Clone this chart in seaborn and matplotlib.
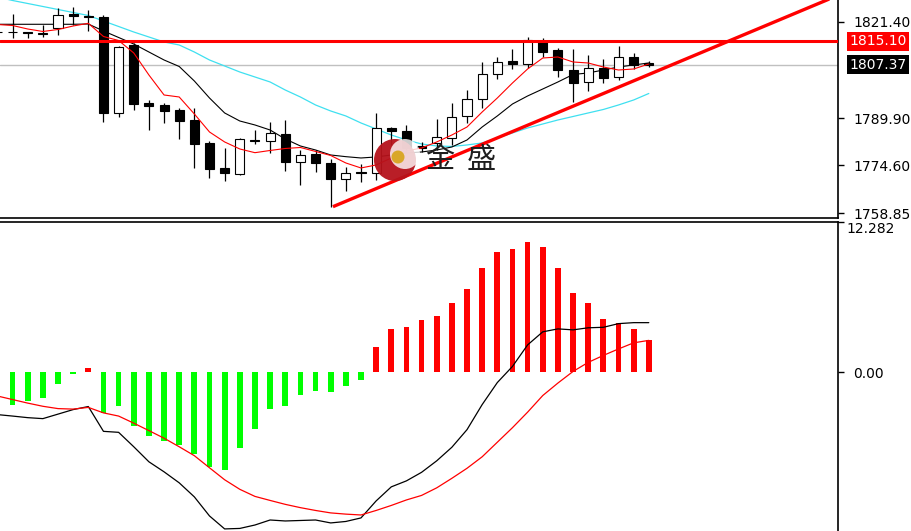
import numpy as np
import pandas as pd
import matplotlib
matplotlib.use('Agg')
import matplotlib.pyplot as plt
import matplotlib.transforms as mtransforms
from matplotlib.patches import Ellipse
import seaborn as sns

# ---- candle data ----
opens = [1818.1, 1818.2, 1817.9, 1817.5, 1819.3, 1823.8, 1823.4, 1823.0, 1791.5, 1813.8,
         1794.8, 1794.2, 1792.6, 1789.3, 1781.7, 1773.5, 1771.7, 1782.9, 1782.5, 1784.7,
         1775.7, 1778.2, 1775.4, 1770.0, 1772.4, 1771.9, 1786.8, 1785.7, 1780.8, 1781.8,
         1783.3, 1790.6, 1796.1, 1804.3, 1808.6, 1807.6, 1815.2, 1812.2, 1805.6, 1801.6,
         1806.2, 1803.4, 1810.0, 1807.9]
highs = [1818.7, 1823.9, 1818.0, 1820.3, 1825.8, 1826.3, 1825.2, 1823.6, 1813.5, 1814.5,
         1795.8, 1794.9, 1793.3, 1793.3, 1782.5, 1780.1, 1783.3, 1786.0, 1788.8, 1789.3,
         1779.5, 1779.5, 1776.6, 1773.9, 1774.9, 1791.7, 1787.1, 1787.7, 1782.2, 1789.7,
         1794.9, 1799.1, 1808.1, 1810.0, 1812.4, 1816.3, 1816.0, 1812.9, 1812.4, 1810.5,
         1809.1, 1813.5, 1811.1, 1808.6]
lows = [1817.7, 1816.0, 1816.0, 1816.5, 1817.1, 1820.3, 1818.5, 1788.8, 1790.2, 1792.6,
        1786.0, 1788.4, 1783.1, 1773.7, 1770.3, 1769.4, 1771.2, 1781.4, 1778.4, 1772.7,
        1768.1, 1772.4, 1761.0, 1766.2, 1769.2, 1769.7, 1781.0, 1778.5, 1779.0, 1779.5,
        1781.2, 1788.2, 1793.1, 1802.6, 1806.0, 1806.2, 1809.8, 1803.3, 1795.3, 1798.9,
        1801.3, 1802.3, 1805.8, 1806.7]
closes = [1818.2, 1818.1, 1817.8, 1817.7, 1823.6, 1823.3, 1822.8, 1791.5, 1813.2, 1794.5,
          1793.9, 1792.2, 1789.0, 1781.4, 1773.3, 1771.9, 1783.0, 1782.5, 1785.0, 1775.7,
          1777.9, 1775.2, 1770.0, 1771.9, 1771.9, 1786.7, 1785.7, 1780.2, 1780.1, 1783.8,
          1790.4, 1796.1, 1804.3, 1808.3, 1807.6, 1815.3, 1811.6, 1805.6, 1801.4, 1806.4,
          1802.9, 1810.0, 1807.3, 1807.37]

# moving averages
ma_red = [1820.49, 1820.16, 1819.02, 1818.21, 1818.86, 1820.00, 1820.88, 1816.57, 1815.27, 1811.19,
          1804.00, 1797.47, 1796.82, 1791.27, 1785.39, 1782.13, 1779.84, 1778.63, 1779.35, 1780.00,
          1780.33, 1779.03, 1777.72, 1775.27, 1773.64, 1774.62, 1776.90, 1779.19, 1780.17, 1782.13,
          1784.41, 1787.02, 1791.92, 1796.49, 1801.39, 1805.96, 1809.55, 1809.88, 1808.25, 1807.92,
          1806.61, 1805.63, 1805.96, 1807.59]
ma_black = [1820.56, 1820.56, 1820.56, 1820.56, 1820.56, 1820.56, 1820.65, 1818.37, 1816.25, 1814.12,
            1811.51, 1808.90, 1806.78, 1802.04, 1796.49, 1791.60, 1788.98, 1787.68, 1786.04, 1783.11,
            1780.82, 1779.51, 1777.88, 1777.33, 1776.90, 1777.23, 1777.88, 1778.54, 1778.86, 1779.51,
            1780.49, 1782.78, 1787.02, 1790.62, 1794.53, 1797.15, 1799.43, 1801.72, 1804.17, 1804.66,
            1805.63, 1806.61, 1807.27, 1807.92]
ma_cyan = [1829.47, 1828.33, 1827.35, 1826.37, 1825.39, 1824.41, 1823.43, 1821.63, 1819.84, 1818.04,
           1816.41, 1814.78, 1813.80, 1811.51, 1808.90, 1806.94, 1804.98, 1803.35, 1801.72, 1799.10,
           1796.82, 1794.21, 1792.25, 1790.62, 1788.33, 1786.37, 1784.41, 1782.78, 1781.47, 1780.82,
           1780.66, 1781.15, 1781.80, 1783.43, 1785.07, 1786.70, 1788.00, 1789.31, 1790.45, 1791.60,
           1792.74, 1794.21, 1795.84, 1797.96]

# MACD panel
macd_hist = [-3.06, -2.65, -2.32, -2.10, -0.93, -0.19, 0.35, -3.33, -2.73, -4.37,
             -5.25, -5.66, -5.93, -6.67, -7.76, -7.98, -6.20, -4.64, -2.98, -2.73,
             -1.89, -1.56, -1.64, -1.15, -0.60, 2.08, 3.50, 3.72, 4.24, 4.57,
             5.64, 6.84, 8.51, 9.85, 10.07, 10.67, 10.21, 8.51, 6.51, 5.64,
             4.38, 4.05, 3.50, 2.63]
macd_main = [-3.47, -3.59, -3.72, -3.80, -3.43, -3.06, -2.81, -4.84, -4.92, -6.10,
             -7.33, -8.15, -9.05, -10.20, -11.76, -12.82, -12.78, -12.50, -12.09, -12.17,
             -12.13, -12.09, -12.33, -12.21, -11.92, -10.53, -9.38, -8.89, -8.19, -7.25,
             -6.14, -4.70, -2.65, -0.85, 0.47, 2.23, 3.30, 3.54, 3.46, 3.63,
             3.67, 3.97, 4.05, 4.05]
macd_signal = [-1.95, -2.24, -2.53, -2.79, -2.98, -3.02, -2.88, -3.33, -3.59, -4.17,
               -4.78, -5.40, -6.10, -6.83, -7.82, -8.80, -9.58, -10.16, -10.49, -10.81,
               -11.08, -11.31, -11.51, -11.61, -11.68, -11.31, -10.90, -10.45, -10.08, -9.46,
               -8.68, -7.86, -6.92, -5.73, -4.54, -3.27, -1.91, -0.89, 0.06, 0.80,
               1.37, 1.90, 2.40, 2.60]

resistance = 1815.10
last_price = 1807.37
price_ticks = [1821.40, 1789.90, 1774.60, 1758.85]
trend_idx = [22.15, 56.5]
trend_price = [1761.0, 1832.1]
macd_top = 12.282

sns.set_style('white')
plt.rcParams['font.family'] = ['DejaVu Sans']

df = pd.DataFrame({'open': opens, 'high': highs, 'low': lows, 'close': closes,
                   'ma_red': ma_red, 'ma_black': ma_black, 'ma_cyan': ma_cyan,
                   'hist': macd_hist, 'macd': macd_main, 'signal': macd_signal})
df['idx'] = np.arange(len(df))

W, H = 912, 531
fig = plt.figure(figsize=(W / 100, H / 100), dpi=100)
ax1 = fig.add_axes([0, (H - 218) / H, 838 / W, 218 / H])
ax2 = fig.add_axes([0, 0, 838 / W, (H - 222) / H])

xlim = (0.17, 55.49)

# ---- price panel ----
ax1.vlines(df['idx'], df['low'], df['high'], color='black', lw=0.9, zorder=3)
body_lo = df[['open', 'close']].min(axis=1)
body_h = (df['close'] - df['open']).abs()
body_col = np.where(df['close'] > df['open'], 'white', 'black')
ax1.bar(df['idx'], body_h, bottom=body_lo, width=0.6, color=body_col,
        edgecolor='black', linewidth=0.8, zorder=4)

sns.lineplot(data=df, x='idx', y='ma_cyan', ax=ax1, color='#3fe0f0', lw=0.9, zorder=2)
sns.lineplot(data=df, x='idx', y='ma_black', ax=ax1, color='black', lw=0.8, zorder=2)
sns.lineplot(data=df, x='idx', y='ma_red', ax=ax1, color='red', lw=0.8, zorder=5)

ax1.axhline(last_price, color='#c0c0c0', lw=1.0, zorder=1)
ax1.axhline(resistance, color='red', lw=2.2, zorder=6)
ax1.plot(trend_idx, trend_price, color='red', lw=2.4, zorder=6, solid_capstyle='butt')

ax1.set_xlim(*xlim)
ax1.set_ylim(1757.3, 1828.49)
ax1.set_xticks([])
ax1.yaxis.tick_right()
ax1.set_yticks(price_ticks)
ax1.set_yticklabels([f'{v:.2f}' for v in price_ticks])
ax1.tick_params(axis='y', direction='out', length=4, width=1, pad=7,
                labelsize=10, colors='black', right=True)
ax1.set_xlabel('')
ax1.set_ylabel('')
for s in ['left', 'top']:
    ax1.spines[s].set_visible(False)
for s in ['right', 'bottom']:
    ax1.spines[s].set_color('black')
    ax1.spines[s].set_linewidth(1.2)

tr1 = mtransforms.blended_transform_factory(ax1.transAxes, ax1.transData)
ax1.text(1 + 11 / 838, resistance, f'{resistance:.2f}', transform=tr1, ha='left', va='center',
         color='white', fontsize=10, zorder=10, clip_on=False,
         bbox=dict(facecolor='#ff0000', edgecolor='none', pad=1.8))
ax1.text(1 + 11 / 838, last_price, f'{last_price:.2f}', transform=tr1, ha='left', va='center',
         color='white', fontsize=10, zorder=10, clip_on=False,
         bbox=dict(facecolor='black', edgecolor='none', pad=1.8))

# ---- MACD panel ----
hist_col = np.where(df['hist'] < 0, '#00ff00', '#ff0000')
ax2.bar(df['idx'], df['hist'], width=0.38, color=hist_col, linewidth=0, zorder=2)
sns.lineplot(data=df, x='idx', y='macd', ax=ax2, color='black', lw=0.9, zorder=3)
sns.lineplot(data=df, x='idx', y='signal', ax=ax2, color='red', lw=0.9, zorder=3)

ax2.set_xlim(*xlim)
ax2.set_ylim(-12.99, macd_top)
ax2.set_xticks([])
ax2.yaxis.tick_right()
ax2.set_yticks([macd_top, 0])
ax2.set_yticklabels(['', '0.00'])
ax2.tick_params(axis='y', direction='out', length=4, width=1, pad=7,
                labelsize=10, colors='black', right=True)
ax2.set_xlabel('')
ax2.set_ylabel('')
for s in ['left', 'bottom']:
    ax2.spines[s].set_visible(False)
for s in ['right', 'top']:
    ax2.spines[s].set_color('black')
    ax2.spines[s].set_linewidth(1.2)
tr2 = mtransforms.blended_transform_factory(ax2.transAxes, ax2.transData)
ax2.text(1 + 8 / 838, macd_top, f'{macd_top:.3f}', transform=tr2, ha='left', va='top',
         color='black', fontsize=10, clip_on=False)

# ---- watermark logo ----
def px(x, y):
    return (x / W, 1 - y / H)

def blob(x, y, r, color, alpha=1.0, z=20):
    fig.patches.append(Ellipse(px(x, y), 2 * r / W, 2 * r / H, transform=fig.transFigure,
                               facecolor=color, edgecolor='none', alpha=alpha, zorder=z))

blob(395, 160, 21, '#b5121b', 0.95, 20)
blob(405, 154, 15, 'white', 0.8, 21)
blob(398, 157, 6.5, '#d8a520', 0.95, 22)
fig.text(*px(440, 160), '金', fontsize=21, color='#1e1e1e', ha='center', va='center',
         family=['Noto Sans CJK SC', 'DejaVu Sans'], zorder=23)
fig.text(*px(481, 160), '盛', fontsize=21, color='#1e1e1e', ha='center', va='center',
         family=['Noto Sans CJK SC', 'DejaVu Sans'], zorder=23)

fig.savefig('out.png', dpi=100, facecolor='white')
